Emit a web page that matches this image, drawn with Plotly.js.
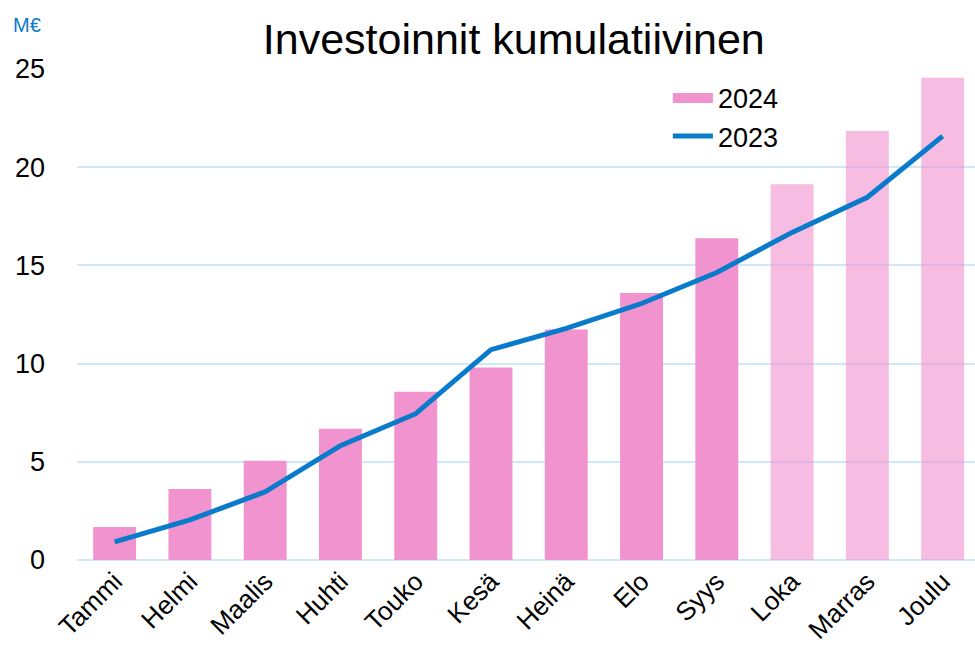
<!DOCTYPE html>
<html>
<head>
<meta charset="utf-8">
<script src="https://cdn.plot.ly/plotly-3.0.1.min.js"></script>
<style>
  html, body { margin: 0; padding: 0; background: #fff; }
  #chart { width: 975px; height: 646px; }
</style>
</head>
<body>
<div id="chart"></div>
<script>
const months = ["Tammi", "Helmi", "Maalis", "Huhti", "Touko", "Kesä", "Heinä", "Elo", "Syys", "Loka", "Marras", "Joulu"];
const inv2024 = [1.68, 3.62, 5.05, 6.68, 8.57, 9.8, 11.73, 13.6, 16.38, 19.13, 21.84, 24.55];
const inv2023 = [0.92, 2.04, 3.47, 5.82, 7.45, 10.71, 11.79, 13.06, 14.64, 16.68, 18.47, 21.58];
// last three months are forecasts, drawn lighter
const forecast = [false, false, false, false, false, false, false, false, false, true, true, true];

const pink = "#F093CE";
const blue = "#0A7BCB";
const barColors = forecast.map(f => f ? "rgba(240,147,206,0.62)" : pink);

const traceBars = {
  x: months,
  y: inv2024,
  type: "bar",
  name: "2024",
  marker: { color: barColors },
  showlegend: false
};

// legend proxy so the 2024 key is a wide block like the original
const legend2024 = {
  x: [months[0]],
  y: [null],
  type: "scatter",
  mode: "lines",
  name: "2024",
  line: { color: pink, width: 15 }
};

const traceLine = {
  x: months,
  y: inv2023,
  type: "scatter",
  mode: "lines",
  name: "2023",
  line: { color: blue, width: 5 }
};

const layout = {
  width: 975,
  height: 646,
  font: { family: "Liberation Sans, Arial, sans-serif", color: "#000", size: 27 },
  title: {
    text: "Investoinnit kumulatiivinen",
    x: 0.527, xanchor: "center",
    y: 0.94, yanchor: "middle",
    font: { size: 43, color: "#000" }
  },
  margin: { l: 77, r: 0, t: 69, b: 86 },
  bargap: 0.43,
  showlegend: true,
  legend: {
    x: 0.658, y: 0.99, xanchor: "left", yanchor: "top",
    font: { size: 27 },
    bgcolor: "rgba(0,0,0,0)",
    traceorder: "normal",
    itemwidth: 40
  },
  xaxis: {
    range: [-0.5, 11.43],
    tickangle: -45,
    tickfont: { size: 26 },
    showgrid: false,
    showline: false,
    ticks: "",
    automargin: false,
    fixedrange: true
  },
  yaxis: {
    range: [0, 25],
    dtick: 5,
    tickfont: { size: 27 },
    gridcolor: "#CFE7FA",
    gridwidth: 2,
    zeroline: true,
    zerolinecolor: "#CFE7FA",
    zerolinewidth: 2,
    ticks: "",
    ticklabelstandoff: 31,
    automargin: false,
    layer: "below traces"
  },
  annotations: [{
    text: "M€",
    xref: "paper", yref: "paper",
    x: -0.073, y: 1.09, xanchor: "left", yanchor: "middle",
    showarrow: false,
    font: { size: 20, color: blue }
  }],
  plot_bgcolor: "#fff",
  paper_bgcolor: "#fff"
};

Plotly.newPlot("chart", [traceBars, legend2024, traceLine], layout, { displayModeBar: false, staticPlot: true });
</script>
</body>
</html>
